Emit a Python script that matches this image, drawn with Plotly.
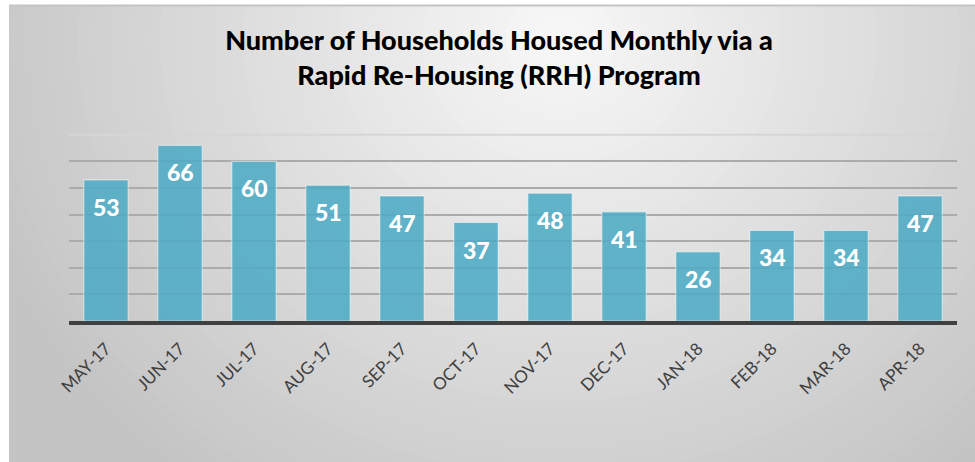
import plotly.graph_objects as go

months = ["MAY-17", "JUN-17", "JUL-17", "AUG-17", "SEP-17", "OCT-17",
          "NOV-17", "DEC-17", "JAN-18", "FEB-18", "MAR-18", "APR-18"]
households = [53, 66, 60, 51, 47, 37, 48, 41, 26, 34, 34, 47]
grid_vals = [10, 20, 30, 40, 50, 60]
top_val = 70

W, H = 975, 462
ML, MR, MT, MB = 69, 18, 132, 141
PW, PH = W - ML - MR, H - MT - MB

def px_to_paper(px, py):
    return (px - ML) / PW, (H - MB - py) / PH

fig = go.Figure()
fig.add_trace(go.Bar(
    x=months, y=households,
    marker=dict(color="#4FACC5", opacity=0.88,
                line=dict(color="rgba(255,255,255,0.55)", width=1.2)),
    width=0.6, hoverinfo="x+y",
))

shapes = []
# base fill
x0, y0 = px_to_paper(9, H + 5)
x1, y1 = px_to_paper(W + 5, 5)
shapes.append(dict(type="rect", xref="paper", yref="paper",
                   x0=x0, y0=y0, x1=x1, y1=y1, fillcolor="rgb(196,196,196)",
                   line=dict(width=0), layer="below"))
# radial-ish gradient background built from concentric ellipses
cx, cy = 560, 40
rx_max, ry_max = 620, 560
n = 45
c0, c1 = 0xC4, 0xF7
for i in range(n):
    f = 1 - i / n
    rx, ry = rx_max * f, ry_max * f
    g = int(round(c0 + (c1 - c0) * (i / (n - 1))))
    col = f"rgb({g},{g},{g})"
    x0, y0 = px_to_paper(cx - rx, cy + ry)
    x1, y1 = px_to_paper(cx + rx, cy - ry)
    shapes.append(dict(type="circle", xref="paper", yref="paper",
                       x0=x0, y0=y0, x1=x1, y1=y1, fillcolor=col,
                       line=dict(width=0), layer="below"))
# white frame outside chart area
for (a, b, c, d) in [(-700, -700, 9, H + 700), (-700, -700, W + 700, 5)]:
    x0, y0 = px_to_paper(a, d)
    x1, y1 = px_to_paper(c, b)
    shapes.append(dict(type="rect", xref="paper", yref="paper",
                       x0=x0, y0=y0, x1=x1, y1=y1, fillcolor="white",
                       line=dict(width=0), layer="below"))
# top border line
x0, y0 = px_to_paper(9, 5.5)
x1, _ = px_to_paper(W + 5, 5.5)
shapes.append(dict(type="line", xref="paper", yref="paper",
                   x0=x0, y0=y0, x1=x1, y1=y0,
                   line=dict(color="#c4c4c4", width=2), layer="below"))
# top (lighter) gridline
shapes.append(dict(type="line", xref="paper", yref="y", x0=0, x1=1,
                   y0=top_val, y1=top_val,
                   line=dict(color="#d6d6d6", width=2), layer="below"))

annotations = []
for m, v in zip(months, households):
    annotations.append(dict(x=m, y=v, xref="x", yref="y", text=str(v),
                            showarrow=False, yshift=-27, yanchor="middle",
                            font=dict(family="Lato", size=23, color="white",
                                      weight=900)))

fig.update_layout(
    width=W, height=H,
    margin=dict(l=ML, r=MR, t=MT, b=MB),
    paper_bgcolor="white", plot_bgcolor="rgba(0,0,0,0)",
    showlegend=False,
    bargap=0.4,
    title=dict(text="Number of Households Housed Monthly via a<br>Rapid Re-Housing (RRH) Program",
               x=(499) / W, xanchor="center", y=1 - 50 / H, yanchor="middle",
               font=dict(family="Lato", size=27, color="black", weight=900)),
    xaxis=dict(showgrid=False, tickangle=-45, showline=True, linewidth=4,
               linecolor="#404040", ticks="", automargin=False,
               ticklabelstandoff=7,
               tickfont=dict(family="Lato", size=17, color="#404040")),
    yaxis=dict(range=[0, 71], tickvals=grid_vals, showticklabels=False,
               showgrid=True, gridcolor="#ababab", gridwidth=2,
               zeroline=False, showline=False, fixedrange=True,
               automargin=False),
    shapes=shapes, annotations=annotations,
)

fig.write_html("out.html", config={"displayModeBar": False},
               post_script="document.body.style.margin='0';document.body.style.overflow='hidden';")
